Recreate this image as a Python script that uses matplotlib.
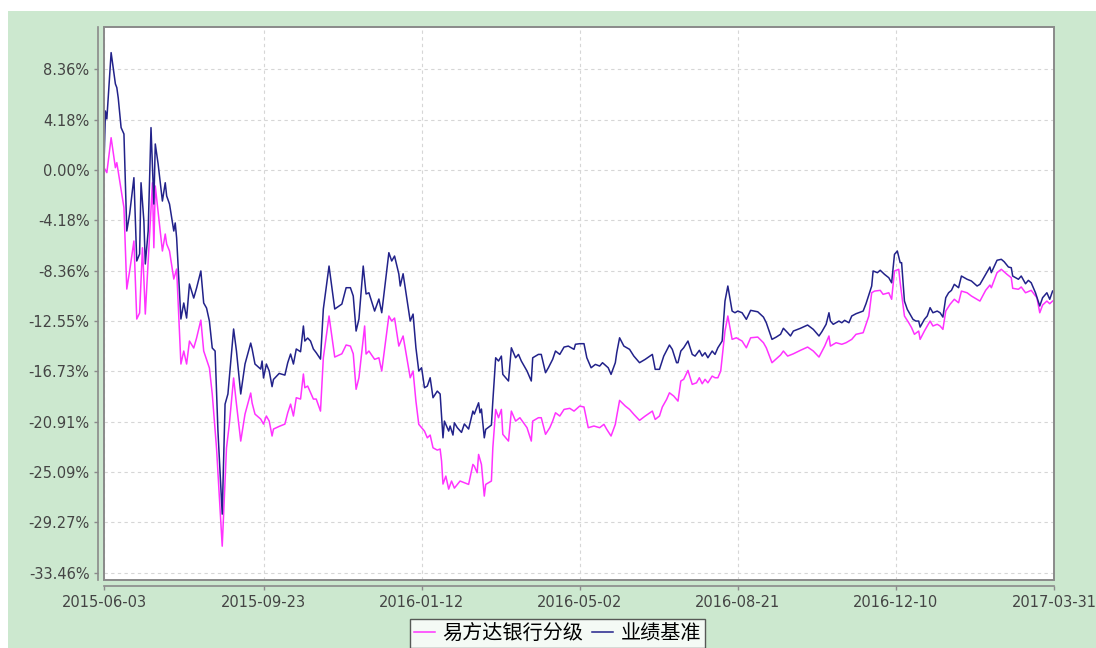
import datetime as dt
import matplotlib
matplotlib.use("Agg")
import matplotlib.pyplot as plt
from matplotlib.patches import Rectangle
from matplotlib.ticker import FixedLocator, FixedFormatter

# Cumulative return (%) of the fund and its benchmark, sampled at the
# listed calendar-day offsets from the start date.
start_date = dt.date(2015, 6, 3)

fund_days = [0, 2, 5, 8, 9, 14, 16, 18, 21, 23, 25, 27, 28, 29, 34, 35, 36, 41, 43, 44,
             46, 49, 51, 54, 56, 58, 60, 63, 65, 68, 70, 74, 76, 79, 83, 86, 88, 91, 93, 96,
             99, 103, 104, 106, 110, 112, 114, 116, 118, 119, 123, 127, 129, 131, 133, 135, 138, 140, 141, 143,
             147, 149, 152, 154, 158, 162, 167, 170, 173, 175, 177, 179, 183, 184, 186, 190, 193, 195, 200, 202,
             204, 207, 210, 215, 217, 219, 221, 223, 225, 227, 229, 231, 234, 236, 237, 238, 240, 242, 244, 246,
             250, 256, 259, 260, 262, 263, 265, 267, 268, 272, 273, 275, 277, 279, 280, 284, 286, 289, 292, 297,
             300, 301, 305, 307, 310, 313, 315, 317, 320, 323, 327, 330, 334, 337, 340, 344, 348, 351, 353, 356,
             359, 360, 362, 366, 369, 372, 376, 380, 385, 387, 390, 392, 395, 397, 400, 403, 405, 407, 410, 413,
             416, 418, 420, 422, 424, 427, 429, 431, 433, 436, 438, 441, 444, 448, 451, 454, 459, 463, 465, 469,
             475, 477, 480, 484, 489, 494, 498, 502, 506, 509, 510, 514, 518, 521, 525, 528, 533, 537, 539, 541,
             545, 547, 551, 553, 555, 558, 559, 562, 565, 567, 569, 572, 573, 576, 580, 582, 585, 587, 589, 591,
             594, 597, 600, 602, 606, 609, 615, 619, 622, 623, 627, 630, 634, 637, 638, 642, 644, 647, 651, 655,
             657, 659, 662, 664, 666]
fund_return = [0.19, -0.22, 2.68, 0.19, 0.61, -3.13, -9.89, -8.39, -5.90, -12.38, -11.88, -6.46, -9.06, -11.97, -1.06, -6.46, -1.33, -6.73, -5.32, -6.15,
               -6.73, -9.06, -8.23, -16.12, -15.04, -16.12, -14.21, -14.79, -13.96, -12.47, -15.04, -16.45, -18.61, -23.10, -31.25, -23.10, -21.11, -17.28, -19.45, -22.52,
               -20.28, -18.53, -19.36, -20.28, -20.69, -21.11, -20.44, -20.86, -22.10, -21.52, -21.30, -21.11, -20.17, -19.45, -20.44, -18.92, -19.03, -16.95, -18.09, -17.95,
               -19.03, -19.03, -20.03, -15.60, -12.13, -15.54, -15.27, -14.54, -14.63, -15.27, -18.22, -17.26, -12.96, -15.29, -15.04, -15.73, -15.60, -16.70, -12.13, -12.55,
               -12.30, -14.63, -13.79, -17.26, -16.70, -19.20, -21.13, -21.41, -21.69, -22.25, -22.02, -23.08, -23.27, -23.18, -24.18, -26.09, -25.43, -26.51, -25.84, -26.43,
               -25.84, -26.12, -24.46, -24.60, -25.15, -23.63, -24.46, -27.09, -26.12, -25.84, -23.08, -19.89, -20.58, -19.89, -21.96, -22.52, -20.03, -20.86, -20.58, -21.41,
               -22.52, -20.86, -20.58, -20.58, -21.96, -21.41, -20.86, -20.17, -20.44, -19.89, -19.80, -20.03, -19.61, -19.69, -21.41, -21.27, -21.41, -21.13, -21.55, -22.10,
               -21.13, -20.44, -19.14, -19.61, -19.89, -20.30, -20.80, -20.44, -20.03, -20.72, -20.44, -19.69, -19.06, -18.51, -18.78, -19.20, -17.53, -17.39, -16.65, -17.81,
               -17.68, -17.26, -17.76, -17.39, -17.68, -17.12, -17.26, -17.26, -16.70, -13.38, -12.13, -14.07, -13.94, -14.21, -14.77, -13.94, -13.88, -14.35, -14.77, -16.01,
               -15.37, -15.04, -15.46, -15.27, -14.98, -14.71, -15.04, -15.54, -14.63, -13.79, -14.63, -14.35, -14.48, -14.35, -14.07, -13.65, -13.52, -12.13, -10.20, -10.06,
               -10.00, -10.33, -10.20, -10.74, -8.39, -8.25, -9.37, -12.13, -12.69, -13.10, -13.65, -13.38, -14.07, -13.38, -12.55, -12.96, -12.82, -12.96, -13.24, -11.72,
               -11.16, -10.74, -11.03, -10.06, -10.20, -10.47, -10.89, -10.00, -9.56, -9.78, -8.53, -8.25, -8.67, -8.95, -9.83, -9.91, -9.72, -10.20, -10.00, -10.61,
               -11.86, -11.22, -10.89, -11.11, -10.89]

bench_days = [0, 1, 2, 5, 8, 9, 10, 12, 14, 16, 18, 21, 23, 25, 26, 28, 29, 31, 33, 35,
              36, 38, 41, 43, 44, 46, 49, 50, 51, 54, 56, 58, 60, 63, 65, 68, 70, 72, 74, 76,
              78, 80, 83, 85, 87, 91, 93, 96, 99, 103, 104, 106, 110, 111, 112, 114, 116, 118, 119, 123,
              127, 129, 131, 133, 135, 138, 140, 141, 143, 145, 147, 149, 152, 154, 158, 162, 167, 170, 173, 175,
              177, 179, 182, 184, 186, 190, 193, 195, 200, 202, 204, 207, 208, 210, 215, 217, 219, 221, 223, 225,
              227, 229, 231, 234, 236, 238, 239, 242, 243, 245, 246, 248, 251, 253, 256, 259, 260, 263, 264, 265,
              267, 268, 272, 273, 275, 277, 279, 280, 284, 286, 289, 291, 293, 297, 300, 301, 305, 307, 310, 312,
              315, 317, 320, 323, 326, 330, 331, 334, 337, 339, 342, 345, 348, 350, 354, 356, 359, 360, 362, 365,
              369, 372, 376, 380, 385, 387, 390, 393, 397, 399, 402, 403, 405, 407, 410, 413, 415, 418, 420, 422,
              424, 427, 429, 431, 434, 436, 438, 441, 443, 445, 448, 451, 454, 459, 463, 465, 469, 472, 475, 477,
              480, 482, 484, 489, 494, 498, 502, 504, 507, 509, 510, 512, 516, 518, 520, 523, 525, 528, 533, 535,
              539, 540, 543, 545, 548, 551, 553, 555, 557, 559, 560, 562, 564, 566, 568, 570, 572, 573, 576, 578,
              580, 582, 585, 587, 589, 591, 593, 595, 597, 600, 602, 606, 609, 613, 615, 619, 622, 623, 627, 630,
              632, 635, 637, 638, 642, 644, 647, 649, 651, 654, 657, 659, 662, 664, 666]
bench_return = [0.50, 4.90, 4.24, 9.75, 7.15, 6.84, 5.98, 3.52, 2.99, -5.07, -3.66, -0.64, -7.56, -6.98, -1.06, -4.24, -7.81, -5.07, 3.52, -2.83,
                2.16, 0.50, -2.58, -1.06, -2.16, -2.83, -5.07, -4.40, -5.65, -12.38, -11.05, -12.30, -9.47, -10.64, -9.81, -8.39, -11.05, -11.47, -12.55, -14.79,
                -15.04, -21.69, -28.59, -19.45, -18.61, -13.21, -15.04, -18.61, -16.12, -14.38, -14.87, -16.12, -16.54, -15.87, -17.28, -16.12, -16.70, -18.00, -17.40, -16.90,
                -17.04, -16.01, -15.29, -16.12, -14.87, -15.10, -12.96, -14.21, -13.96, -14.21, -14.87, -15.18, -15.71, -11.55, -7.98, -11.55, -11.14, -9.78, -9.78, -10.47,
                -13.38, -12.38, -7.98, -10.30, -10.20, -11.72, -10.72, -11.86, -6.87, -7.56, -7.15, -8.64, -9.64, -8.62, -12.55, -11.97, -14.77, -16.70, -16.43, -18.09,
                -17.95, -17.26, -18.92, -18.37, -18.61, -22.25, -20.86, -21.69, -21.27, -22.02, -21.00, -21.40, -21.80, -21.10, -21.52, -20.03, -20.28, -19.34, -20.17, -19.86,
                -22.25, -21.55, -21.19, -19.20, -15.60, -15.87, -15.46, -16.98, -17.53, -14.77, -15.60, -15.32, -15.87, -16.70, -17.53, -15.60, -15.32, -15.32, -16.84, -16.43,
                -15.73, -15.04, -15.32, -14.71, -14.63, -14.90, -14.48, -14.43, -14.43, -15.60, -16.43, -16.15, -16.29, -16.01, -16.43, -16.98, -16.01, -15.18, -13.94, -14.63,
                -14.90, -15.46, -16.01, -15.73, -15.32, -16.56, -16.56, -15.46, -14.54, -14.90, -16.01, -16.01, -15.04, -14.77, -14.21, -15.32, -15.46, -14.98, -15.46, -15.18,
                -15.60, -15.04, -15.32, -14.77, -14.21, -10.89, -9.64, -11.72, -11.86, -11.72, -11.86, -12.41, -11.66, -11.78, -12.22, -12.69, -14.07, -13.88, -13.65, -13.15,
                -13.52, -13.79, -13.38, -13.15, -12.88, -13.24, -13.79, -13.44, -12.82, -11.86, -12.55, -12.82, -12.55, -12.69, -12.49, -12.69, -12.13, -11.94, -11.72, -11.11,
                -9.64, -8.39, -8.53, -8.33, -8.67, -8.95, -9.37, -7.01, -6.73, -7.70, -7.70, -10.89, -11.58, -11.99, -12.41, -12.55, -12.55, -13.05, -12.41, -12.13,
                -11.44, -11.86, -11.72, -11.86, -12.22, -10.61, -10.20, -10.00, -9.50, -9.78, -8.81, -9.08, -9.22, -9.64, -9.50, -8.67, -8.06, -8.53, -7.50, -7.42,
                -7.62, -8.06, -8.12, -8.81, -9.08, -8.81, -9.45, -9.17, -9.37, -10.20, -11.30, -10.61, -10.20, -10.74, -10.06]

series_names = ["易方达银行分级", "业绩基准"]
y_tick_values = [8.36, 4.18, 0.00, -4.18, -8.36, -12.55, -16.73, -20.91, -25.09, -29.27, -33.46]
x_tick_labels = ["2015-06-03", "2015-09-23", "2016-01-12", "2016-05-02",
                 "2016-08-21", "2016-12-10", "2017-03-31"]

fund_dates = [start_date + dt.timedelta(days=d) for d in fund_days]
bench_dates = [start_date + dt.timedelta(days=d) for d in bench_days]
x_ticks = [dt.datetime.strptime(s, "%Y-%m-%d").date() for s in x_tick_labels]

W, H = 1096, 648
fig = plt.figure(figsize=(W / 100, H / 100), dpi=100)
fig.patch.set_facecolor("white")

green = "#CCE8CF"
fig.add_artist(Rectangle((8 / W, 0), 1 - 8 / W, 1 - 11 / H, transform=fig.transFigure,
                         facecolor=green, edgecolor="none", zorder=0))

left, right, top, bottom = 104, 1054, 26.5, 579.5
ax = fig.add_axes([left / W, 1 - bottom / H, (right - left) / W, (bottom - top) / H])
ax.set_facecolor("white")

ax.plot(fund_dates, fund_return, color="#FF33FF", lw=1.1, label=series_names[0], zorder=3)
ax.plot(bench_dates, bench_return, color="#22228A", lw=1.1, label=series_names[1], zorder=4)

ax.set_xlim(x_ticks[0], x_ticks[-1])
ax.set_ylim(-34.02, 11.92)

ax.yaxis.set_major_locator(FixedLocator(y_tick_values))
ax.yaxis.set_major_formatter(FixedFormatter([f"{v:.2f}%" for v in y_tick_values]))
ax.set_xticks(x_ticks)
ax.set_xticklabels(x_tick_labels)

ax.grid(True, color="#D6D6D6", linestyle=(0, (3, 3)), linewidth=0.8)
ax.set_axisbelow(True)

# Plot frame
for side in ["top", "right"]:
    ax.spines[side].set_visible(False)
ax.add_patch(Rectangle((0, 0), 1, 1, transform=ax.transAxes, fill=False,
                       edgecolor="#8A8A8A", linewidth=1.4, zorder=5, clip_on=False))

# Axis lines offset from the plot frame
for side in ["left", "bottom"]:
    ax.spines[side].set_position(("outward", 4.5))
    ax.spines[side].set_color("#8A8A8A")
    ax.spines[side].set_linewidth(1.2)

ax.tick_params(axis="both", colors="#8A8A8A", length=3, width=1, labelcolor="#444444",
               labelsize=10.5)
ax.tick_params(axis="y", pad=3)
ax.tick_params(axis="x", pad=4)

plt.rcParams["font.family"] = ["Noto Sans CJK SC", "DejaVu Sans"]
leg = fig.legend(loc="upper center", bbox_to_anchor=(557.5 / W, 1 - 619 / H),
                 borderaxespad=0, ncol=2, frameon=True, fancybox=False, handlelength=1.05,
                 handletextpad=0.35, columnspacing=0.45, borderpad=0.2,
                 prop={"family": ["Noto Sans CJK SC", "DejaVu Sans"], "size": 14.5})
leg.get_frame().set_edgecolor("#333333")
leg.get_frame().set_linewidth(1.0)
leg.get_frame().set_facecolor("white")

fig.savefig("out.png", dpi=100, facecolor=fig.get_facecolor())
